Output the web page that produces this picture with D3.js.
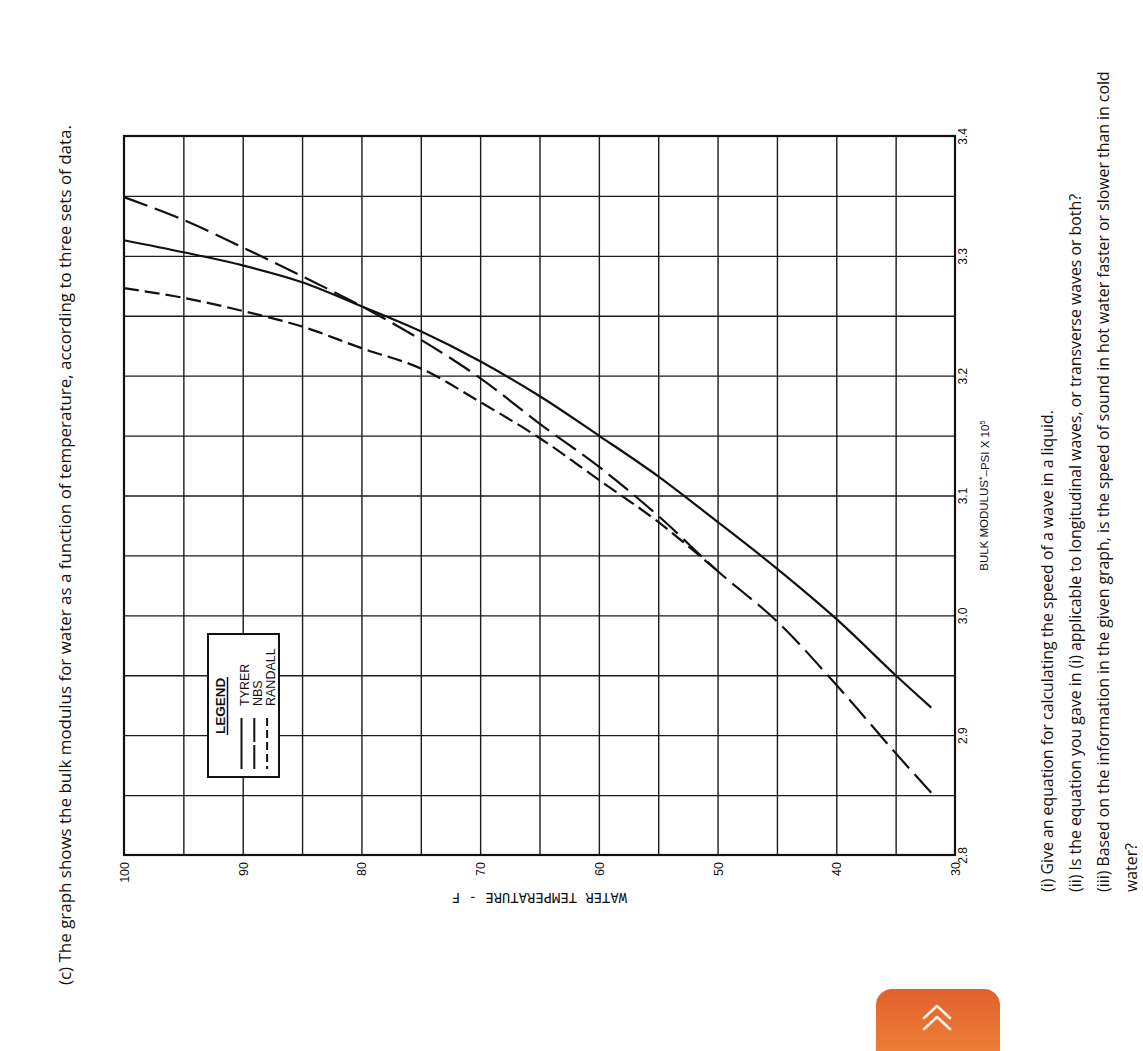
<!DOCTYPE html>
<html>
<head>
<meta charset="utf-8">
<script src="https://cdn.jsdelivr.net/npm/d3@7/dist/d3.min.js"></script>
<style>
  body { margin: 0; background: #fff; }
  svg { display: block; }
</style>
</head>
<body>
<svg id="page"></svg>
<script>
// ---- data ----
const temps = [100, 95, 90, 85, 80, 75, 70, 65, 60, 55, 50, 45, 40, 35, 32];
const tyrer = [3.313, 3.303, 3.292, 3.278, 3.258, 3.237, 3.212, 3.183, 3.150, 3.116, 3.078, 3.039, 2.997, 2.950, 2.923];
const nbs   = [3.349, 3.330, 3.307, 3.283, 3.258, 3.230, 3.198, 3.160, 3.124, 3.083, 3.037, 2.995, 2.942, 2.885, 2.852];
const randallTemps = [100, 95, 90, 85, 80, 75, 70, 65, 60, 55, 50];
const randall = [3.273, 3.265, 3.254, 3.241, 3.223, 3.206, 3.178, 3.148, 3.113, 3.078, 3.037];

const tempTicks = [100, 90, 80, 70, 60, 50, 40, 30];
const tempGrid = [95, 90, 85, 80, 75, 70, 65, 60, 55, 50, 45, 40, 35];
const bulkTicks = [2.8, 2.9, 3.0, 3.1, 3.2, 3.3, 3.4];
const bulkGrid = [2.85, 2.9, 2.95, 3.0, 3.05, 3.1, 3.15, 3.2, 3.25, 3.3, 3.35];
const legendNames = ['TYRER', 'NBS', 'RANDALL'];

const titleText = '(c) The graph shows the bulk modulus for water as a function of temperature, according to three sets of data.';
const questions = [
  '(i) Give an equation for calculating the speed of a wave in a liquid.',
  '(ii) Is the equation you gave in (i) applicable to longitudinal waves, or transverse waves or both?',
  '(iii) Based on the information in the given graph, is the speed of sound in hot water faster or slower than in cold',
  'water?'
];

// ---- page ----
const W = 1143, H = 1051;
const svg = d3.select('#page').attr('width', W).attr('height', H);
svg.append('rect').attr('width', W).attr('height', H).attr('fill', '#fff');

const bodyFont = '"Open Sans", "Noto Sans", sans-serif';
const chartFont = '"Liberation Sans", Arial, sans-serif';

// the whole page is turned a quarter turn, so text runs bottom -> top
const title = svg.append('text')
  .attr('transform', 'translate(71,985) rotate(-90)')
  .style('font-family', bodyFont)
  .style('font-size', '16px')
  .style('fill', '#111')
  .text(titleText);
// fit to the measured length of the line in the scan
const tl = title.node().getComputedTextLength();
title.style('font-size', (16 * 860 / tl).toFixed(2) + 'px');

const qBase = [1053, 1081, 1109, 1137];
const qNodes = svg.selectAll('text.q')
  .data(questions)
  .enter()
  .append('text')
  .attr('class', 'q')
  .attr('transform', (d, i) => `translate(${qBase[i]},892) rotate(-90)`)
  .style('font-family', bodyFont)
  .style('font-size', '15px')
  .style('fill', '#111')
  .text(d => d);
const q1 = qNodes.filter((d, i) => i === 0).node().getComputedTextLength();
qNodes.style('font-size', (15 * 482 / q1).toFixed(2) + 'px');

// ---- chart ----
const plot = { left: 124, right: 955, top: 136, bottom: 855 };
const x = d3.scaleLinear().domain([100, 30]).range([plot.left, plot.right]);
const y = d3.scaleLinear().domain([2.8, 3.4]).range([plot.bottom, plot.top]);

const chart = svg.append('g');

// grid lines
const vGrid = chart.append('g')
  .attr('transform', `translate(0,${plot.bottom})`)
  .call(d3.axisBottom(x).tickValues(tempGrid).tickSize(-(plot.bottom - plot.top)).tickFormat(''));
vGrid.select('.domain').remove();
vGrid.selectAll('line').attr('stroke', '#1c1c1c').attr('stroke-width', 1.4);

const hGrid = chart.append('g')
  .attr('transform', `translate(${plot.right},0)`)
  .call(d3.axisRight(y).tickValues(bulkGrid).tickSize(-(plot.right - plot.left)).tickFormat(''));
hGrid.select('.domain').remove();
hGrid.selectAll('line').attr('stroke', '#1c1c1c').attr('stroke-width', 1.4);

// frame
chart.append('rect')
  .attr('x', plot.left).attr('y', plot.top)
  .attr('width', plot.right - plot.left).attr('height', plot.bottom - plot.top)
  .attr('fill', 'none').attr('stroke', '#111').attr('stroke-width', 2.2);

// temperature labels (upright axis labels of the turned page -> read bottom to top)
const tAxis = chart.append('g')
  .attr('transform', `translate(0,${plot.bottom})`)
  .call(d3.axisBottom(x).tickValues(tempTicks).tickSize(0).tickPadding(0));
tAxis.select('.domain').remove();
tAxis.selectAll('text')
  .attr('y', 0).attr('dy', '0.36em')
  .attr('transform', 'translate(0,7) rotate(-90)')
  .attr('text-anchor', 'end')
  .style('font-family', chartFont)
  .style('font-size', '12.5px')
  .style('fill', '#111');

// bulk modulus labels
const bAxis = chart.append('g')
  .attr('transform', `translate(${plot.right},0)`)
  .call(d3.axisRight(y).tickValues(bulkTicks).tickSize(0).tickPadding(0).tickFormat(d3.format('.1f')));
bAxis.select('.domain').remove();
bAxis.selectAll('text')
  .attr('x', 0).attr('dy', 0)
  .attr('transform', 'translate(12,0) rotate(-90)')
  .attr('text-anchor', 'middle')
  .style('font-family', chartFont)
  .style('font-size', '12px')
  .style('fill', '#111');

// axis titles
const bTitle = chart.append('text')
  .attr('transform', `translate(988,${y(3.1)}) rotate(-90)`)
  .attr('text-anchor', 'middle')
  .style('font-family', chartFont)
  .style('font-size', '11.5px')
  .style('fill', '#111');
bTitle.append('tspan').text('BULK MODULUS');
bTitle.append('tspan').attr('dy', '-0.35em').style('font-size', '9px').text('*');
bTitle.append('tspan').attr('dy', '0.35em').text('–PSI X 10');
bTitle.append('tspan').attr('dy', '-0.45em').style('font-size', '8px').text('5');

chart.append('text')
  .attr('transform', `translate(${x(65)},893) rotate(180)`)
  .attr('text-anchor', 'middle')
  .attr('textLength', 175)
  .attr('lengthAdjust', 'spacingAndGlyphs')
  .style('font-family', '"DejaVu Sans Mono", monospace')
  .style('font-size', '13.5px')
  .style('fill', '#111')
  .text('WATER TEMPERATURE - F');

// curves
const line = d3.line()
  .x(d => x(d[0]))
  .y(d => y(d[1]))
  .curve(d3.curveCatmullRom.alpha(0.5));

const series = [
  { name: 'TYRER', pts: d3.zip(temps, tyrer), dash: null },
  { name: 'NBS', pts: d3.zip(temps, nbs), dash: '25,8' },
  { name: 'RANDALL', pts: d3.zip(randallTemps, randall), dash: '15,6' }
];

chart.selectAll('path.curve')
  .data(series)
  .enter()
  .append('path')
  .attr('class', 'curve')
  .attr('d', d => line(d.pts))
  .attr('fill', 'none')
  .attr('stroke', '#111')
  .attr('stroke-width', 2.2)
  .attr('stroke-dasharray', d => d.dash);

// legend box
const legend = chart.append('g');
legend.append('rect')
  .attr('x', 208).attr('y', 634)
  .attr('width', 71).attr('height', 143)
  .attr('fill', '#fff').attr('stroke', '#111').attr('stroke-width', 2);

legend.append('text')
  .attr('transform', 'translate(225,734) rotate(-90)')
  .style('font-family', chartFont)
  .style('font-size', '13.5px')
  .style('font-weight', 'bold')
  .style('fill', '#111')
  .text('LEGEND');
legend.append('line')
  .attr('x1', 227.5).attr('x2', 227.5).attr('y1', 677).attr('y2', 735)
  .attr('stroke', '#111').attr('stroke-width', 1.5);

const legendDash = [null, '24,3', '8,4'];
const entry = legend.selectAll('g.entry')
  .data(legendNames)
  .enter()
  .append('g')
  .attr('class', 'entry')
  .attr('transform', (d, i) => `translate(${241.5 + i * 12.8},0)`);
entry.append('line')
  .attr('x1', 0).attr('x2', 0).attr('y1', 718).attr('y2', 769)
  .attr('stroke', '#111').attr('stroke-width', 2)
  .attr('stroke-dasharray', (d, i) => legendDash[i]);
entry.append('text')
  .attr('transform', 'translate(7.5,706) rotate(-90)')
  .style('font-family', chartFont)
  .style('font-size', '12.5px')
  .style('fill', '#111')
  .text(d => d);

// ---- orange "back to top" button ----
const grad = svg.append('defs').append('linearGradient')
  .attr('id', 'btn').attr('x1', 0).attr('y1', 0).attr('x2', 0).attr('y2', 1);
grad.append('stop').attr('offset', '0%').attr('stop-color', '#e0612c');
grad.append('stop').attr('offset', '100%').attr('stop-color', '#f08c3c');

svg.append('rect')
  .attr('x', 876).attr('y', 989)
  .attr('width', 124).attr('height', 90)
  .attr('rx', 16)
  .attr('fill', 'url(#btn)');

const chev = svg.append('g')
  .attr('fill', 'none').attr('stroke', '#fdf1e6')
  .attr('stroke-width', 2.6).attr('stroke-linecap', 'round').attr('stroke-linejoin', 'round');
chev.append('path').attr('d', 'M924,1018 L937,1006 L950,1018');
chev.append('path').attr('d', 'M924,1029 L937,1017 L950,1029');
</script>
</body>
</html>
